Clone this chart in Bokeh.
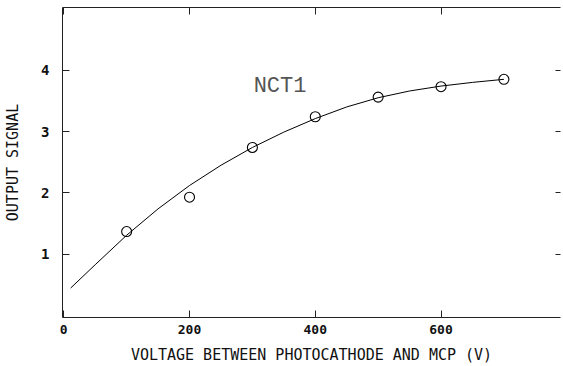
from bokeh.plotting import figure
from bokeh.models import LinearAxis, FixedTicker, Range1d, Label, CustomJSTickFormatter
from bokeh.embed import file_html
from bokeh.resources import INLINE

# measured points
voltage = [100, 200, 300, 400, 500, 600, 700]
signal = [1.37, 1.93, 2.74, 3.24, 3.56, 3.73, 3.85]

# fitted curve
curve_v = [11, 50, 100, 150, 200, 250, 300, 350, 400, 450, 500, 550, 600, 650, 700]
curve_s = [0.45, 0.83, 1.31, 1.74, 2.12, 2.45, 2.74, 2.99, 3.21, 3.40, 3.55, 3.66, 3.74, 3.80, 3.85]

x_ticks = [0, 200, 400, 600]
y_ticks = [1, 2, 3, 4]
series_label = "NCT1"
x_title = "VOLTAGE BETWEEN PHOTOCATHODE AND MCP (V)"
y_title = "OUTPUT SIGNAL"

FONT = "DejaVu Sans Mono"

p = figure(width=563, height=366, output_backend="svg", toolbar_location=None,
           x_range=Range1d(-2, 790), y_range=Range1d(-0.03, 5.02),
           x_axis_location=None, y_axis_location=None,
           min_border_left=62, min_border_right=3, min_border_top=7, min_border_bottom=49)
p.outline_line_color = None
p.grid.visible = False
p.background_fill_color = "white"

def style(ax):
    ax.axis_line_color = "#222222"
    ax.axis_line_width = 1
    ax.major_tick_line_color = "#222222"
    ax.major_tick_in = 7
    ax.major_tick_out = 0
    ax.minor_tick_line_color = None
    ax.major_label_text_font = FONT
    ax.major_label_text_font_style = "bold"
    ax.major_label_text_font_size = "13px"
    ax.major_label_text_color = "#111111"
    ax.axis_label_text_font = FONT
    ax.axis_label_text_font_style = "normal"
    ax.axis_label_text_font_size = "15px"
    ax.axis_label_text_color = "#111111"

blank = CustomJSTickFormatter(code="return '';")

bottom = LinearAxis(ticker=FixedTicker(ticks=x_ticks), axis_label=x_title)
style(bottom)
bottom.major_label_standoff = 7
bottom.axis_label_standoff = 9
p.add_layout(bottom, "below")

left = LinearAxis(ticker=FixedTicker(ticks=y_ticks), axis_label=y_title)
style(left)
left.major_label_standoff = 13
left.axis_label_standoff = 16
left.major_label_text_font_size = "14px"
p.add_layout(left, "left")

top = LinearAxis(ticker=FixedTicker(ticks=x_ticks), formatter=blank)
style(top)
top.major_label_text_font_size = "0px"
top.major_label_standoff = 0
p.add_layout(top, "above")

right = LinearAxis(ticker=FixedTicker(ticks=y_ticks), formatter=blank)
style(right)
right.axis_line_color = None
right.major_tick_in = 5
right.major_label_text_font_size = "0px"
right.major_label_standoff = 0
p.add_layout(right, "right")

p.line(curve_v, curve_s, line_color="black", line_width=1)
p.scatter(voltage, signal, marker="circle", size=10, fill_color=None,
          line_color="black", line_width=1.1)

p.add_layout(Label(x=302, y=3.74, text=series_label, text_font="Liberation Mono",
                   text_font_size="22px", text_color="#555555",
                   text_baseline="middle", text_align="left"))

open("out.html", "w").write(file_html(p, INLINE))
